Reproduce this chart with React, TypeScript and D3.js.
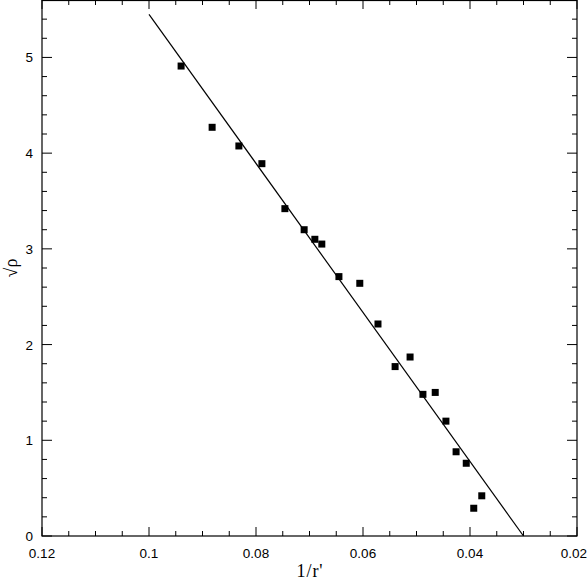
import React, { useRef, useEffect } from 'react';
import * as d3 from 'd3';

// measured points: x = 1/r', y = sqrt(rho)
const xValues = [0.094, 0.0882, 0.0832, 0.0789, 0.0746, 0.071, 0.069, 0.0677, 0.0645, 0.0606,
  0.0572, 0.0512, 0.054, 0.0488, 0.0465, 0.0445, 0.0426, 0.0407, 0.0378, 0.0393];
const yValues = [4.91, 4.27, 4.075, 3.89, 3.42, 3.2, 3.1, 3.05, 2.71, 2.64,
  2.215, 1.87, 1.77, 1.48, 1.5, 1.2, 0.88, 0.76, 0.42, 0.29];

// fitted line end points
const fitX = [0.1, 0.0300];
const fitY = [5.45, 0];

const xTickLabels = ['0.12', '0.1', '0.08', '0.06', '0.04', '0.02'];
const yTickLabels = ['0', '1', '2', '3', '4', '5'];

const App = () => {
  const svgRef = useRef<SVGSVGElement>(null);

  useEffect(() => {
    const svg = d3.select(svgRef.current);
    svg.selectAll('*').remove();

    const left = 42, right = 577, top = 0, bottom = 536;

    const x = d3.scaleLinear().domain([0.12, 0.02]).range([left, right]);
    const y = d3.scaleLinear().domain([0, 5.6]).range([bottom, top]);

    const g = svg.append('g');

    // frame
    g.append('rect')
      .attr('x', left).attr('y', top + 0.5)
      .attr('width', right - left).attr('height', bottom - top - 0.5)
      .attr('fill', 'none').attr('stroke', '#000').attr('stroke-width', 1.2);

    // ticks
    const xMinor = d3.range(0, 21).map(i => 0.12 - i * 0.005);
    const yMinor = d3.range(0, 28).map(i => i * 0.2);
    const isMajorX = (v: number) => Math.abs(v * 50 - Math.round(v * 50)) < 1e-6;
    const isMajorY = (v: number) => Math.abs(v - Math.round(v)) < 1e-6;

    xMinor.forEach(v => {
      const len = isMajorX(v) ? 9 : 5;
      const px = x(v);
      g.append('line').attr('x1', px).attr('x2', px).attr('y1', bottom).attr('y2', bottom - len)
        .attr('stroke', '#000');
      g.append('line').attr('x1', px).attr('x2', px).attr('y1', top).attr('y2', top + len)
        .attr('stroke', '#000');
    });
    yMinor.forEach(v => {
      const len = isMajorY(v) ? 10 : 5;
      const py = y(v);
      g.append('line').attr('x1', left).attr('x2', left + len).attr('y1', py).attr('y2', py)
        .attr('stroke', '#000');
      g.append('line').attr('x1', right).attr('x2', right - len).attr('y1', py).attr('y2', py)
        .attr('stroke', '#000');
    });

    // tick labels
    xTickLabels.forEach((t, i) => {
      const last = i === xTickLabels.length - 1;
      g.append('text').attr('x', last ? 587 : x(+t)).attr('y', 558)
        .attr('text-anchor', last ? 'end' : 'middle')
        .attr('font-family', 'Liberation Sans, Arial, sans-serif').attr('font-size', 13.5)
        .text(t);
    });
    yTickLabels.forEach(t => {
      g.append('text').attr('x', 33).attr('y', y(+t) + 5)
        .attr('text-anchor', 'end')
        .attr('font-family', 'Liberation Sans, Arial, sans-serif').attr('font-size', 13.5)
        .text(t);
    });

    // axis titles
    g.append('text').attr('x', 310).attr('y', 577)
      .attr('text-anchor', 'middle')
      .attr('font-family', 'Liberation Serif, Times New Roman, serif').attr('font-size', 18)
      .attr('letter-spacing', 1)
      .text("1/r'");
    g.append('text')
      .attr('transform', 'translate(17,268) rotate(-90)')
      .attr('text-anchor', 'middle')
      .attr('font-family', 'Liberation Serif, Times New Roman, serif').attr('font-size', 18)
      .text('\u221A\u03C1');

    // fit line
    const line = d3.line<number>().x((d, i) => x(fitX[i])).y(d => y(d));
    g.append('path').datum(fitY)
      .attr('d', line)
      .attr('fill', 'none').attr('stroke', '#000').attr('stroke-width', 1.2);

    // points
    const s = 7;
    g.selectAll('rect.pt').data(xValues).enter().append('rect')
      .attr('class', 'pt')
      .attr('x', d => x(d) - s / 2)
      .attr('y', (d, i) => y(yValues[i]) - s / 2)
      .attr('width', s).attr('height', s)
      .attr('fill', '#000');
  }, []);

  return (
    <svg ref={svgRef} width="588" height="580"
      style={{ position: 'absolute', left: 0, top: 0, background: '#fff' }}></svg>
  );
};

export default App;
